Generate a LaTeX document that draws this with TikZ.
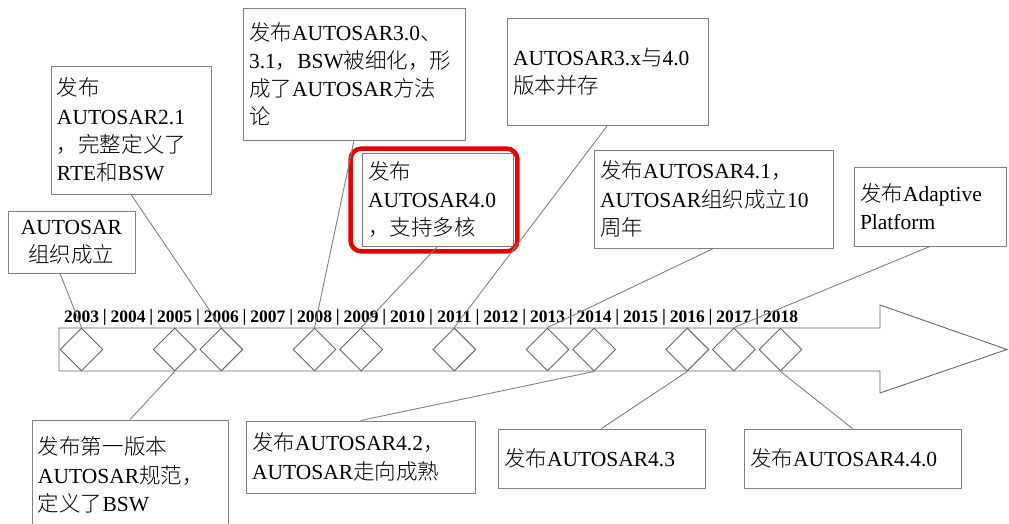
\documentclass[tikz,border=0pt]{standalone}
\usepackage{fontspec}
\setmainfont{Liberation Serif}
\newfontfamily\cjkfont{Noto Sans CJK SC Light}
\usetikzlibrary{shapes.geometric, calc}
\newcommand\zhtxt[1]{{\cjkfont #1}}

\begin{document}
\begin{tikzpicture}[x=1bp, y=-1bp, line width=0.9bp,
  event/.style={draw=gray, align=left, inner sep=6bp, font=\rmfamily\fontsize{21.5bp}{28.3bp}\selectfont},
  gem/.style={diamond, draw=gray!80!black, minimum width=43bp, minimum height=43bp, inner sep=0},
  yearlbl/.style={font=\rmfamily\fontsize{17.5bp}{20bp}\selectfont\bfseries, inner sep=0},
  link/.style={draw=gray},
  hilite/.style={draw=red!90!black, line width=4.5bp, rounded corners=11bp}]
\clip (0,0) rectangle (1009,524);

% timeline arrow
\draw[gray!80!black] (59,328) -- (880,328) -- (880,305) -- (1007,349.5) -- (880,393) -- (880,371) -- (59,371) -- cycle;

% years
\foreach \yr [count=\i from 0] in {2003,...,2018}
  \node[yearlbl] (y\yr) at ({81.5+46.6*\i},317) {\yr};
\foreach \i in {0,...,14}
  \node[yearlbl] (s\i) at ({104.8+46.6*\i},317) {|};

% milestones on the bar
\foreach \yr/\i in {2003/0,2005/2,2006/3,2008/5,2009/6,2011/8,2013/10,2014/11,2016/13,2017/14,2018/15}
  \node[gem] (d\yr) at ({81.5+46.6*\i},349.5) {};

% boxes above
\node[event, align=center, text width=115bp, minimum height=62bp] (b2003) at (71.5,242) {AUTOSAR\\\zhtxt{组织成立}};
\node[event, text width=148bp, minimum height=128bp] (b2006) at (131,130) {\zhtxt{发布}\\AUTOSAR2.1\\\zhtxt{，完整定义了}\\RTE\zhtxt{和}BSW};
\node[event, text width=210bp, minimum height=132bp] (b2008) at (354,74) {\zhtxt{发布}AUTOSAR3.0\zhtxt{、}\\3.1\zhtxt{，}BSW\zhtxt{被细化，形}\\\zhtxt{成了}AUTOSAR\zhtxt{方法}\\\zhtxt{论}};
\node[event, text width=139bp, minimum height=93bp] (b2009) at (437.5,199.5) {\zhtxt{发布}\\AUTOSAR4.0\\\zhtxt{，支持多核}};
\node[event, text width=189bp, minimum height=107bp] (b2011) at (607.5,71.5) {AUTOSAR3.x\zhtxt{与}4.0\\\zhtxt{版本并存}};
\node[event, text width=227bp, minimum height=98bp] (b2013) at (713.5,199) {\zhtxt{发布}AUTOSAR4.1\zhtxt{，}\\AUTOSAR\zhtxt{组织成立}10\\\zhtxt{周年}};
\node[event, text width=140bp, minimum height=79bp] (b2017) at (930,206.5) {\zhtxt{发布}Adaptive\\Platform};

% boxes below
\node[event, text width=184bp, minimum height=110bp] (b2005) at (130,475) {\zhtxt{发布第一版本}\\AUTOSAR\zhtxt{规范，}\\\zhtxt{定义了}BSW};
\node[event, text width=217bp, minimum height=72bp] (b2014) at (360.5,457) {\zhtxt{发布}AUTOSAR4.2\zhtxt{，}\\AUTOSAR\zhtxt{走向成熟}};
\node[event, text width=195bp, minimum height=59bp] (b2016) at (601.5,458.5) {\zhtxt{发布}AUTOSAR4.3};
\node[event, text width=205bp, minimum height=59bp] (b2018) at (852.5,458.5) {\zhtxt{发布}AUTOSAR4.4.0};

% highlight
\draw[hilite] ($(b2009.north west)+(-11,-4)$) rectangle ($(b2009.south east)+(4,5)$);

% connectors
\draw[link] ($(b2003.south west)!0.41!(b2003.south east)$) -- (d2003.north);
\draw[link] (b2006.south) -- (d2006.north);
\draw[link] (b2008.south) -- (d2008.north);
\draw[link] (b2009.south) -- (d2009.north);
\draw[link] (b2011.south) -- (d2011.north);
\draw[link] (b2013.south) -- (d2013.north);
\draw[link] (b2017.south) -- (d2017.north);
\draw[link] (b2005.north) -- (d2005.south);
\draw[link] (b2014.north) -- (d2014.south);
\draw[link] (b2016.north) -- (d2016.south);
\draw[link] (b2018.north) -- (d2018.south);
\end{tikzpicture}
\end{document}
